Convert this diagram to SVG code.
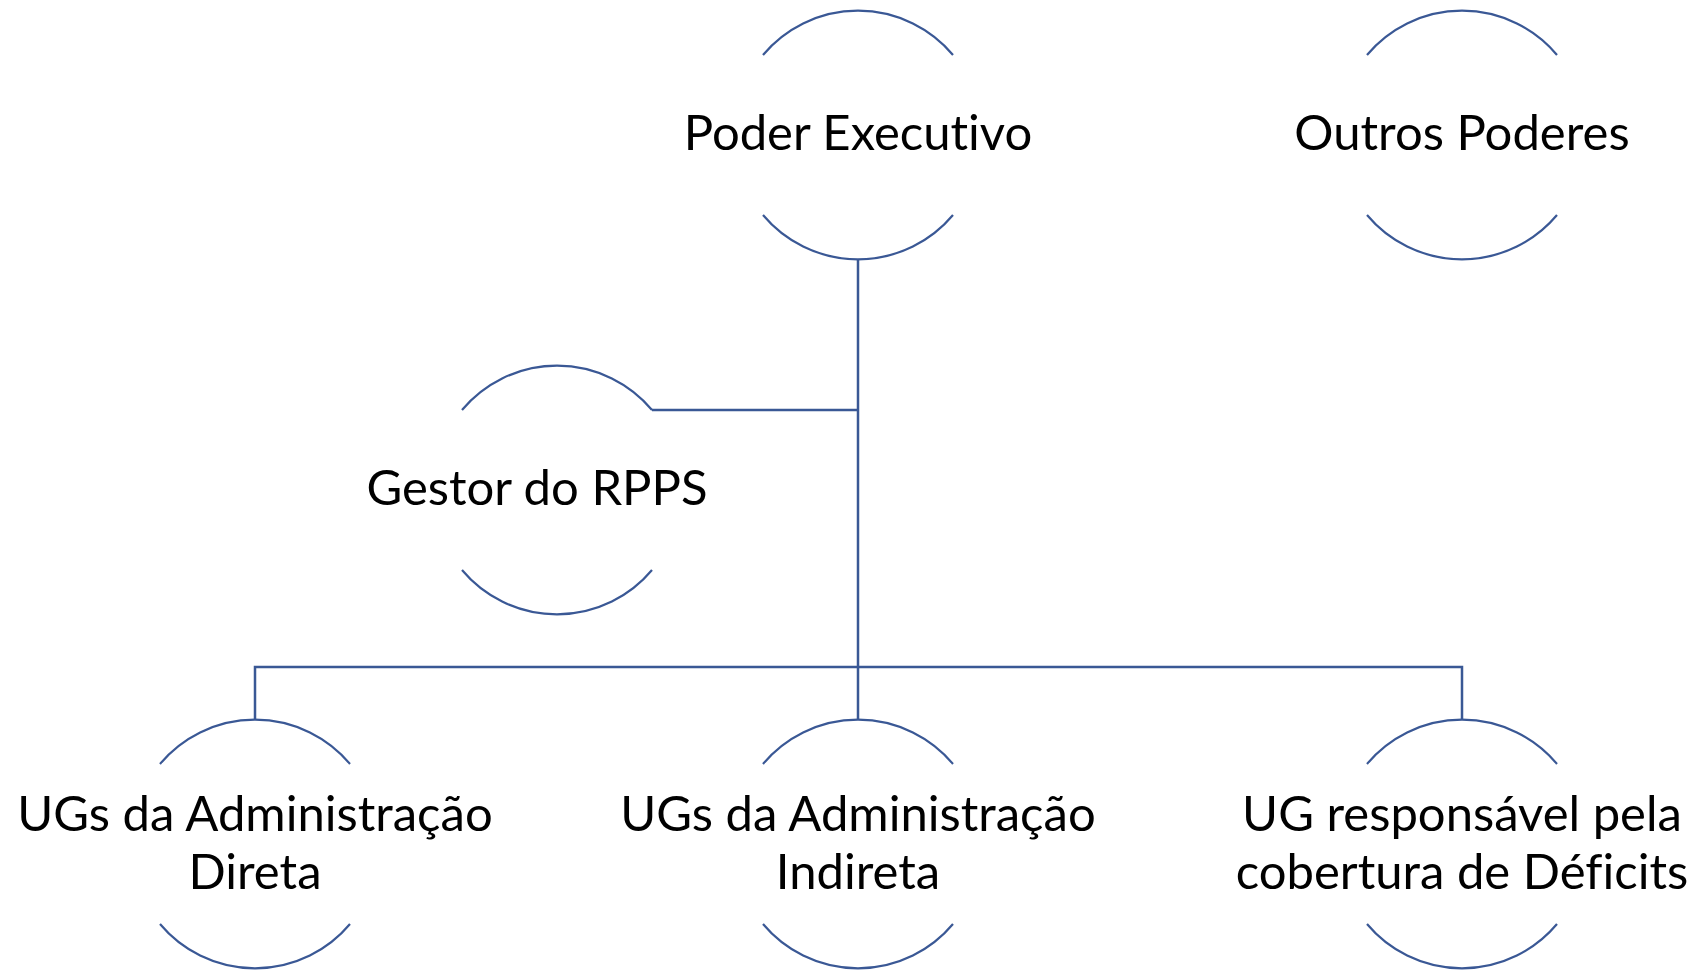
<svg xmlns="http://www.w3.org/2000/svg" width="1698" height="970" viewBox="0 0 1698 970">
<style>
.arc{fill:none;stroke:#3A5895;stroke-width:2.2}
.conn{fill:none;stroke:#3A5895;stroke-width:2.5}
text{font-family:Lato,"Liberation Sans",sans-serif;font-size:49px;fill:#000;text-anchor:middle;font-variant-ligatures:none}
</style>
<rect width="1698" height="970" fill="#fff"/>
<g id="connectors">
<path class="conn" d="M858 259 V719"/>
<path class="conn" d="M652 410 H858"/>
<path class="conn" d="M255 719 V667 H1462 V719"/>
</g>
<g id="poder-executivo">
<path class="arc" d="M763 55 A124 124 0 0 1 953 55"/>
<path class="arc" d="M763 215 A124 124 0 0 0 953 215"/>
<text x="858" y="150">Poder Executivo</text>
</g>
<g id="outros-poderes">
<path class="arc" d="M1367 55 A124 124 0 0 1 1557 55"/>
<path class="arc" d="M1367 215 A124 124 0 0 0 1557 215"/>
<text x="1462" y="150">Outros Poderes</text>
</g>
<g id="gestor-rpps">
<path class="arc" d="M462 410 A124 124 0 0 1 652 410"/>
<path class="arc" d="M462 570 A124 124 0 0 0 652 570"/>
<text x="537" y="505">Gestor do RPPS</text>
</g>
<g id="ugs-direta">
<path class="arc" d="M160 764 A124 124 0 0 1 350 764"/>
<path class="arc" d="M160 924 A124 124 0 0 0 350 924"/>
<text x="255" y="831">UGs da Administração</text>
<text x="255" y="889">Direta</text>
</g>
<g id="ugs-indireta">
<path class="arc" d="M763 764 A124 124 0 0 1 953 764"/>
<path class="arc" d="M763 924 A124 124 0 0 0 953 924"/>
<text x="858" y="831">UGs da Administração</text>
<text x="858" y="889">Indireta</text>
</g>
<g id="ug-deficits">
<path class="arc" d="M1367 764 A124 124 0 0 1 1557 764"/>
<path class="arc" d="M1367 924 A124 124 0 0 0 1557 924"/>
<text x="1462" y="831">UG responsável pela</text>
<text x="1462" y="889">cobertura de Déficits</text>
</g>
</svg>
